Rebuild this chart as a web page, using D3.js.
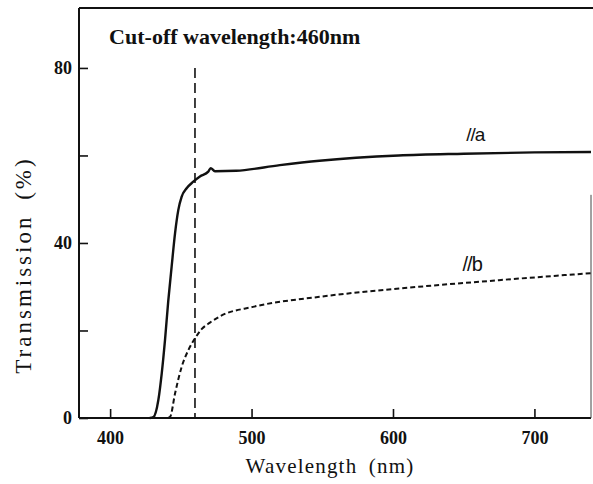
<!DOCTYPE html>
<html>
<head>
<meta charset="utf-8">
<script src="https://cdn.jsdelivr.net/npm/d3@7"></script>
<style>
  body { margin: 0; background: #fff; }
  text { font-family: "Liberation Serif", "DejaVu Serif", serif; fill: #111; }
</style>
</head>
<body>
<svg width="593" height="484"></svg>
<script>
// series
var wlA = [428, 430.6, 434.1, 436.5, 438.8, 441.1, 443.5, 445.9, 448.2, 450.6, 454.1, 458.8, 463.5, 469.4, 471.1, 474.1, 489, 520, 548, 604, 650, 700, 740];
var tA  = [0, 0.2, 4.1, 10.2, 17.8, 26.7, 34.6, 42.2, 47.5, 50.6, 52.5, 54.0, 55.2, 56.3, 57.1, 56.4, 56.5, 57.8, 58.8, 60.0, 60.4, 60.7, 60.8];

var wlB = [441, 442.5, 445.9, 450.6, 455.3, 460, 464.7, 470.6, 478, 501, 548, 605, 675, 740];
var tB  = [0, 0.3, 5.6, 11.7, 15.5, 18.2, 20.3, 21.8, 23.3, 25.4, 27.7, 29.6, 31.5, 33.1];

var cutoff = 460;
var xTicks = [400, 500, 600, 700];
var yTicks = [0, 20, 40, 60, 80];
var yLabels = [0, 40, 80];

var svg = d3.select("svg"),
    margin = {top: 8, right: 2, bottom: 66, left: 79},
    width = +svg.attr("width") - margin.left - margin.right,
    height = +svg.attr("height") - margin.top - margin.bottom;

var x = d3.scaleLinear().domain([378, 740]).range([0, width]);
var y = d3.scaleLinear().domain([0, 93.7]).range([height, 0]);

var g = svg.append("g")
    .attr("transform", "translate(" + margin.left + "," + margin.top + ")");

// frame: left, bottom, top, and the short right piece
g.append("line").attr("x1", 0).attr("x2", 0).attr("y1", 0).attr("y2", height)
    .attr("stroke", "#111").attr("stroke-width", 2);
g.append("line").attr("x1", 0).attr("x2", width).attr("y1", height).attr("y2", height)
    .attr("stroke", "#111").attr("stroke-width", 2);
g.append("line").attr("x1", 0).attr("x2", width + 2).attr("y1", 0).attr("y2", 0)
    .attr("stroke", "#111").attr("stroke-width", 2);
g.append("line").attr("x1", width).attr("x2", width).attr("y1", y(51)).attr("y2", height)
    .attr("stroke", "#444").attr("stroke-width", 1);

// x axis, ticks pointing up
var xAxis = d3.axisBottom(x).tickValues(xTicks).tickSizeInner(-9).tickSizeOuter(0).tickPadding(13);
var gx = g.append("g").attr("transform", "translate(0," + height + ")").call(xAxis);
gx.select(".domain").remove();
gx.selectAll(".tick line").attr("stroke", "#111").attr("stroke-width", 1.6);
gx.selectAll("text").style("font-size", "18px").style("font-weight", "bold")
    .style("font-family", "'Liberation Serif', serif").attr("fill", "#111");

// y axis, ticks pointing right
var yAxis = d3.axisLeft(y).tickValues(yTicks).tickSizeInner(-9).tickSizeOuter(0).tickPadding(7)
    .tickFormat(function(d) { return yLabels.indexOf(d) >= 0 ? d : ""; });
var gy = g.append("g").call(yAxis);
gy.select(".domain").remove();
gy.selectAll(".tick line").attr("stroke", "#111").attr("stroke-width", 1.6);
gy.selectAll("text").style("font-size", "18px").style("font-weight", "bold")
    .style("font-family", "'Liberation Serif', serif").attr("fill", "#111");

// cut-off line
g.append("line")
    .attr("x1", x(cutoff)).attr("x2", x(cutoff))
    .attr("y1", y(80)).attr("y2", height)
    .attr("stroke", "#111").attr("stroke-width", 1.6)
    .attr("stroke-dasharray", "10,5");

var line = d3.line().curve(d3.curveMonotoneX)
    .x(function(d) { return x(d[0]); })
    .y(function(d) { return y(d[1]); });

g.append("path")
    .datum(d3.zip(wlA, tA))
    .attr("fill", "none").attr("stroke", "#111").attr("stroke-width", 2.4)
    .attr("d", line);

g.append("path")
    .datum(d3.zip(wlB, tB))
    .attr("fill", "none").attr("stroke", "#111").attr("stroke-width", 2)
    .attr("stroke-dasharray", "5,3")
    .attr("d", line);

// labels
g.append("text").attr("x", x(400) - 1).attr("y", y(85.5))
    .style("font-size", "22px").style("font-weight", "bold")
    .text("Cut-off wavelength:460nm");

g.append("text").attr("x", x(651.8)).attr("y", y(63.2))
    .style("font-size", "19px").style("font-family", "'Liberation Sans', sans-serif")
    .style("letter-spacing", "-1px")
    .text("//a");
g.append("text").attr("x", x(649.2)).attr("y", y(33.6))
    .style("font-size", "20px").style("font-family", "'Liberation Sans', sans-serif")
    .style("letter-spacing", "-1px")
    .text("//b");

svg.append("text")
    .attr("x", 330).attr("y", 473)
    .attr("text-anchor", "middle")
    .style("font-size", "21px").style("letter-spacing", "1.2px").style("word-spacing", "5px")
    .text("Wavelength (nm)");

svg.append("text")
    .attr("transform", "translate(31,265) rotate(-90)")
    .attr("text-anchor", "middle")
    .style("font-size", "23px").style("letter-spacing", "3px").style("word-spacing", "6px")
    .text("Transmission (%)");
</script>
</body>
</html>
